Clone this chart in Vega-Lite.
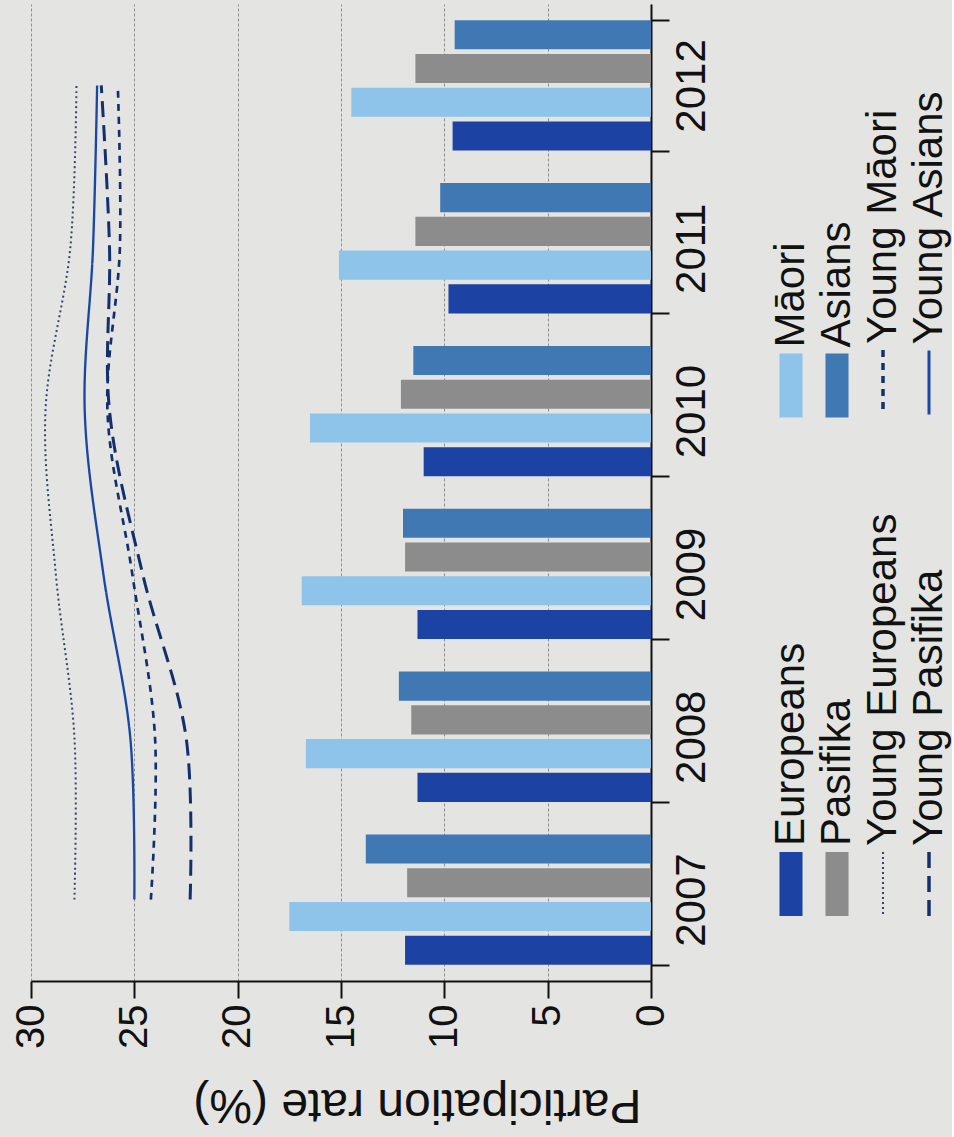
{
  "$schema": "https://vega.github.io/schema/vega-lite/v6.json",
  "width": 620,
  "height": 977,
  "padding": {"left": 11, "top": 3, "right": 2, "bottom": 36},
  "background": "#e4e5e2",
  "config": {
    "view": {"stroke": null},
    "font": "Liberation Sans",
    "axis": {"labelFont": "Liberation Sans", "titleFont": "Liberation Sans", "labelColor": "#111", "titleColor": "#111"},
    "legend": {
      "labelFont": "Liberation Sans",
      "labelFontSize": 42,
      "labelColor": "#111",
      "labelLimit": 0,
      "columns": 4,
      "columnPadding": 4,
      "rowPadding": 78,
      "padding": 0,
      "offset": 67,
      "orient": "right"
    }
  },
  "datasets": {
    "bars": [
      {"year": "2007", "group": "Europeans", "rate": 11.9},
      {"year": "2007", "group": "Māori", "rate": 17.5},
      {"year": "2007", "group": "Pasifika", "rate": 11.8},
      {"year": "2007", "group": "Asians", "rate": 13.8},
      {"year": "2008", "group": "Europeans", "rate": 11.3},
      {"year": "2008", "group": "Māori", "rate": 16.7},
      {"year": "2008", "group": "Pasifika", "rate": 11.6},
      {"year": "2008", "group": "Asians", "rate": 12.2},
      {"year": "2009", "group": "Europeans", "rate": 11.3},
      {"year": "2009", "group": "Māori", "rate": 16.9},
      {"year": "2009", "group": "Pasifika", "rate": 11.9},
      {"year": "2009", "group": "Asians", "rate": 12.0},
      {"year": "2010", "group": "Europeans", "rate": 11.0},
      {"year": "2010", "group": "Māori", "rate": 16.5},
      {"year": "2010", "group": "Pasifika", "rate": 12.1},
      {"year": "2010", "group": "Asians", "rate": 11.5},
      {"year": "2011", "group": "Europeans", "rate": 9.8},
      {"year": "2011", "group": "Māori", "rate": 15.1},
      {"year": "2011", "group": "Pasifika", "rate": 11.4},
      {"year": "2011", "group": "Asians", "rate": 10.2},
      {"year": "2012", "group": "Europeans", "rate": 9.6},
      {"year": "2012", "group": "Māori", "rate": 14.5},
      {"year": "2012", "group": "Pasifika", "rate": 11.4},
      {"year": "2012", "group": "Asians", "rate": 9.5}
    ],
    "lines": [
      {"year": "2007", "group": "Young Europeans", "rate": 27.9},
      {"year": "2008", "group": "Young Europeans", "rate": 27.9},
      {"year": "2009", "group": "Young Europeans", "rate": 28.8},
      {"year": "2010", "group": "Young Europeans", "rate": 29.3},
      {"year": "2011", "group": "Young Europeans", "rate": 28.1},
      {"year": "2012", "group": "Young Europeans", "rate": 27.8},
      {"year": "2007", "group": "Young Asians", "rate": 25.0},
      {"year": "2008", "group": "Young Asians", "rate": 25.2},
      {"year": "2009", "group": "Young Asians", "rate": 26.5},
      {"year": "2010", "group": "Young Asians", "rate": 27.4},
      {"year": "2011", "group": "Young Asians", "rate": 27.0},
      {"year": "2012", "group": "Young Asians", "rate": 26.8},
      {"year": "2007", "group": "Young Māori", "rate": 24.2},
      {"year": "2008", "group": "Young Māori", "rate": 24.0},
      {"year": "2009", "group": "Young Māori", "rate": 25.1},
      {"year": "2010", "group": "Young Māori", "rate": 26.3},
      {"year": "2011", "group": "Young Māori", "rate": 25.7},
      {"year": "2012", "group": "Young Māori", "rate": 25.8},
      {"year": "2007", "group": "Young Pasifika", "rate": 22.3},
      {"year": "2008", "group": "Young Pasifika", "rate": 22.5},
      {"year": "2009", "group": "Young Pasifika", "rate": 24.6},
      {"year": "2010", "group": "Young Pasifika", "rate": 26.2},
      {"year": "2011", "group": "Young Pasifika", "rate": 26.2},
      {"year": "2012", "group": "Young Pasifika", "rate": 26.6}
    ]
  },
  "encoding": {
    "x": {
      "field": "rate",
      "type": "quantitative",
      "scale": {"domain": [0, 30], "reverse": true, "nice": false},
      "axis": {
        "values": [0, 5, 10, 15, 20, 25, 30],
        "orient": "bottom",
        "grid": true,
        "gridColor": "#8f8f8f",
        "gridDash": [3, 2],
        "gridWidth": 1,
        "domainColor": "#111",
        "domainWidth": 2,
        "tickColor": "#111",
        "tickWidth": 2,
        "tickSize": 17,
        "labelAngle": -90,
        "labelAlign": "right",
        "labelBaseline": "middle",
        "labelFontSize": 40,
        "labelPadding": 6,
        "title": "Participation rate (%)",
        "titleAngle": 180,
        "titleBaseline": "bottom",
        "titleAnchor": "start",
        "titleAlign": "left",
        "titleX": 610,
        "titleFontSize": 48,
        "titleFontWeight": "normal",
        "titlePadding": 31
      }
    },
    "y": {
      "field": "year",
      "type": "nominal",
      "sort": "descending",
      "scale": {"paddingInner": 0.2, "paddingOuter": 0.1},
      "axis": {
        "orient": "right",
        "title": null,
        "tickBand": "extent",
        "domainColor": "#111",
        "domainWidth": 2,
        "tickColor": "#111",
        "tickWidth": 2,
        "tickSize": 18,
        "labelAngle": -90,
        "labelAlign": "center",
        "labelBaseline": "top",
        "labelFontSize": 42,
        "labelPadding": 2
      }
    }
  },
  "layer": [
    {
      "data": {"name": "bars"},
      "mark": {"type": "bar"},
      "encoding": {
        "yOffset": {
          "field": "group",
          "type": "nominal",
          "scale": {"domain": ["Asians", "Pasifika", "Māori", "Europeans"], "paddingInner": 0.14, "paddingOuter": 0}
        },
        "color": {
          "field": "group",
          "type": "nominal",
          "scale": {
            "domain": ["Māori", "Europeans", "Asians", "Pasifika", "Young Māori", "Young Europeans", "Young Asians", "Young Pasifika"],
            "range": ["#8ec3ea", "#1c42a3", "#3f78b2", "#8c8c8c", "#13306d", "#34466e", "#1a47a3", "#13306d"]
          },
          "legend": {
            "title": null,
            "encode": {
              "symbols": {
                "update": {
                  "x": {"value": 12},
                  "y": {"value": 378},
                  "size": {"value": 4096},
                  "opacity": {"value": 1},
                  "shape": {"signal": "indexof(['Young Europeans','Young Pasifika','Young Māori','Young Asians'], datum.value) >= 0 ? 'M0,-11.8M0,-1V1' : 'M0,-11.8M-0.36,-1H0.36V1H-0.36Z'"},
                  "fill": {"signal": "indexof(['Young Europeans','Young Pasifika','Young Māori','Young Asians'], datum.value) >= 0 ? 'transparent' : scale('color', datum.value)"},
                  "stroke": {"signal": "indexof(['Young Europeans','Young Pasifika','Young Māori','Young Asians'], datum.value) >= 0 ? scale('color', datum.value) : 'transparent'"},
                  "strokeWidth": {"signal": "datum.value == 'Young Europeans' ? 2 : datum.value == 'Young Asians' ? 3 : indexof(['Young Pasifika','Young Māori'], datum.value) >= 0 ? 3.5 : 0"},
                  "strokeDash": {"signal": "datum.value == 'Young Europeans' ? [2,3] : datum.value == 'Young Pasifika' ? [16,8] : datum.value == 'Young Māori' ? [7,6] : [1,0]"}
                }
              },
              "labels": {
                "update": {
                  "x": {"value": 12},
                  "y": {"value": 340},
                  "angle": {"value": -90},
                  "align": {"value": "left"},
                  "baseline": {"value": "middle"}
                }
              }
            }
          }
        }
      }
    },
    {
      "data": {"name": "lines"},
      "mark": {"type": "line", "interpolate": "catmull-rom"},
      "encoding": {
        "color": {"field": "group", "type": "nominal"},
        "strokeDash": {
          "field": "group",
          "type": "nominal",
          "scale": {"domain": ["Young Europeans", "Young Asians", "Young Māori", "Young Pasifika"], "range": [[2, 3], [1, 0], [7, 6], [16, 8]]},
          "legend": null
        },
        "strokeWidth": {
          "field": "group",
          "type": "nominal",
          "scale": {"domain": ["Young Europeans", "Young Asians", "Young Māori", "Young Pasifika"], "range": [2, 3, 3.5, 3.5]},
          "legend": null
        },
        "order": {"field": "year"}
      }
    }
  ]
}
